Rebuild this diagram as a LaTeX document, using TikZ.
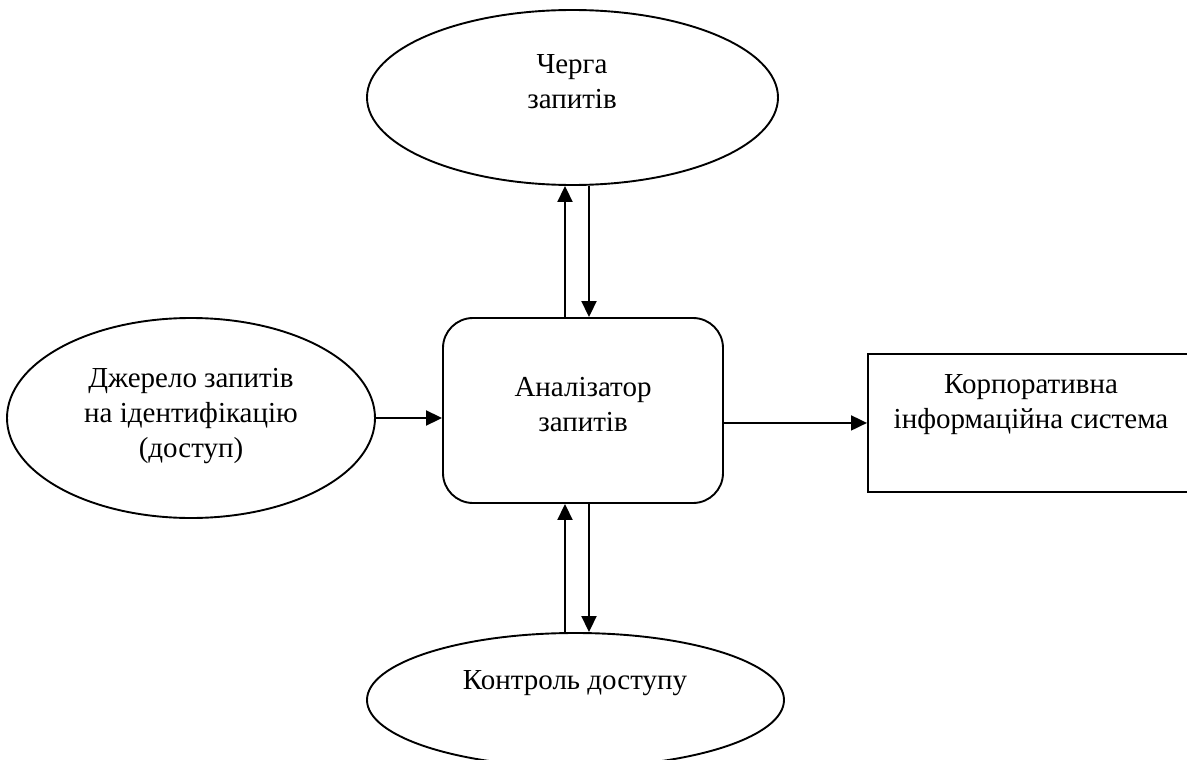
\documentclass[tikz,border=0pt]{standalone}
\usepackage{fontspec}
\setmainfont{Liberation Serif}
\usetikzlibrary{shapes.geometric,arrows.meta}
\tikzset{
  shp/.style={draw=black,line width=1.9pt,inner sep=0pt},
  oval/.style={shp,ellipse},
  lbl/.style={align=center,font=\fontsize{29}{35}\selectfont,inner sep=0pt},
  arr/.style={line width=1.9pt,-{Triangle[length=16pt,width=15pt]}}
}
\begin{document}
\begin{tikzpicture}[x=1pt,y=-1pt]
\useasboundingbox (0,0) rectangle (1187,760);
\begin{scope}
\clip (0,0) rectangle (1187,760);
% shapes
\node[oval,minimum width=411pt,minimum height=175pt] (top) at (572.5,97.5) {};
\node[oval,minimum width=368pt,minimum height=200pt] (src) at (191,418) {};
\node[shp,rounded corners=30pt,minimum width=280pt,minimum height=185pt] (box) at (583,410.5) {};
\node[shp,minimum width=335pt,minimum height=138pt,anchor=north west] (cis) at (867,353) {};
\node[oval,minimum width=417pt,minimum height=134pt] (ctl) at (575.5,700) {};
% texts
\node[lbl] (ttop) at (572,82) {Черга\\запитів};
\node[lbl] (tsrc) at (191,416) {Джерело запитів\\на ідентифікацію\\(доступ)};
\node[lbl] (tbox) at (583,405) {Аналізатор\\запитів};
\node[lbl] (tcis) at (1031,405) {Корпоративна\\інформаційна система};
\node[lbl] (tctl) at (575,683) {Контроль доступу};
\end{scope}
% connectors
\coordinate (cU) at (565,0);
\coordinate (cD) at (589,0);
\draw[arr] (box.north -| cU) -- (top.south -| cU);
\draw[arr] (top.south -| cD) -- (box.north -| cD);
\draw[arr] (ctl.north -| cU) -- (box.south -| cU);
\draw[arr] (box.south -| cD) -- (ctl.north -| cD);
\draw[arr] (src.east) -- (box.west |- src.east);
\draw[arr] (box.east |- cis.west) -- (cis.west);
\end{tikzpicture}
\end{document}
